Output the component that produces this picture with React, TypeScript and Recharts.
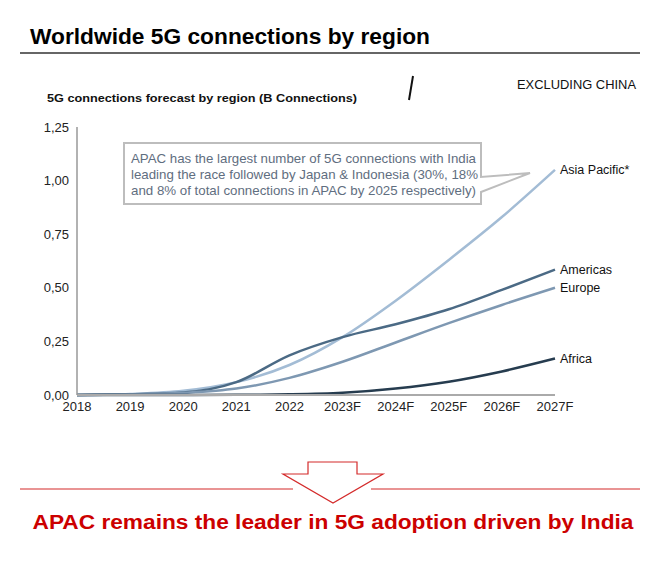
import { LineChart, Line, XAxis, YAxis } from "recharts"

const YEARS = ["2018", "2019", "2020", "2021", "2022", "2023F", "2024F", "2025F", "2026F", "2027F"]
const APAC = [0, 0.005, 0.02, 0.06, 0.14, 0.27, 0.44, 0.63, 0.83, 1.05]
const AMERICAS = [0, 0.004, 0.012, 0.06, 0.185, 0.27, 0.33, 0.40, 0.49, 0.585]
const EUROPE = [0, 0.003, 0.01, 0.03, 0.08, 0.155, 0.245, 0.335, 0.42, 0.50]
const AFRICA = [0, 0, 0, 0.001, 0.003, 0.01, 0.03, 0.062, 0.11, 0.17]
const Y_TICKS = [0, 0.25, 0.5, 0.75, 1, 1.25]

const SERIES = [
  { key: "apac", name: "Asia Pacific*", values: APAC, color: "#a3bcd5" },
  { key: "americas", name: "Americas", values: AMERICAS, color: "#4b6a85" },
  { key: "europe", name: "Europe", values: EUROPE, color: "#7e98b2" },
  { key: "africa", name: "Africa", values: AFRICA, color: "#263c4f" },
]

const FONT = "'Liberation Sans', Arial, sans-serif"

const data = YEARS.map((year, i) => {
  const row: Record<string, string | number> = { year }
  for (const s of SERIES) row[s.key] = s.values[i]
  return row
})

function endLabel(name: string) {
  return (props: any) => {
    if (props.index !== YEARS.length - 1) return null
    return (
      <text x={props.x + 5} y={props.y + 4.5} fontSize={12.5} fill="#111" fontFamily={FONT}>
        {name}
      </text>
    )
  }
}

export default function App() {
  return (
    <div style={{ position: "absolute", left: 0, top: 0, width: 670, height: 563, background: "#fff", fontFamily: FONT }}>
      <svg width={670} height={563} style={{ position: "absolute", left: 0, top: 0 }}>
        <text x={30} y={44} fontSize={22} fontWeight="bold" fill="#000" textLength={400} lengthAdjust="spacingAndGlyphs">
          Worldwide 5G connections by region
        </text>
        <line x1={20} x2={640} y1={53} y2={53} stroke="#666" strokeWidth={2} />
        <text x={47} y={102} fontSize={11} fontWeight="bold" fill="#111" textLength={310} lengthAdjust="spacingAndGlyphs">
          5G connections forecast by region (B Connections)
        </text>
        <line x1={413} y1={76} x2={409} y2={100} stroke="#111" strokeWidth={2} />
        <text x={517} y={89} fontSize={13} fill="#111" textLength={119} lengthAdjust="spacingAndGlyphs">EXCLUDING CHINA</text>

        <line x1={20} x2={293} y1={489} y2={489} stroke="#d42b2b" strokeWidth={1.2} />
        <line x1={371} x2={640} y1={489} y2={489} stroke="#d42b2b" strokeWidth={1.2} />
        <polygon
          points="308,462 357,462 357,474 383,474 333,503 283,474 308,474"
          fill="#fff"
          stroke="#d42b2b"
          strokeWidth={1.2}
        />
        <text x={333} y={529} fontSize={20} fontWeight="bold" fill="#cc0000" textAnchor="middle" textLength={601} lengthAdjust="spacingAndGlyphs">
          APAC remains the leader in 5G adoption driven by India
        </text>
      </svg>

      <div style={{ position: "absolute", left: 0, top: 0 }}>
        <LineChart width={670} height={425} data={data} margin={{ top: 127, right: 115, left: 35, bottom: 0 }}>
          <XAxis
            dataKey="year"
            tickLine={false}
            axisLine={{ stroke: "#aaa", strokeWidth: 2 }}
            tick={{ fontSize: 13, fill: "#222", fontFamily: FONT }}
            tickMargin={4}
            tickSize={3}
            interval={0}
            height={30}
          />
          <YAxis
            domain={[0, 1.25]}
            ticks={Y_TICKS}
            tickFormatter={(v: number) => v.toFixed(2).replace(".", ",")}
            tickLine={false}
            axisLine={{ stroke: "#999", strokeWidth: 1.5 }}
            tick={{ fontSize: 13, fill: "#222", fontFamily: FONT }}
            tickMargin={2}
            width={42}
          />
          {SERIES.map((s) => (
            <Line
              key={s.key}
              dataKey={s.key}
              type="monotoneX"
              stroke={s.color}
              strokeWidth={2.5}
              dot={false}
              isAnimationActive={false}
              label={endLabel(s.name)}
            />
          ))}
        </LineChart>
      </div>

      <svg width={670} height={563} style={{ position: "absolute", left: 0, top: 0, pointerEvents: "none" }}>
        <polygon
          points="124,143 481,143 481,177 530,173 481,192 481,204 124,204"
          fill="#fff"
          stroke="#bdbdbd"
          strokeWidth={2}
        />
        <g fontSize={13} fill="#5f6e80">
          <text x={131} y={163} textLength={345} lengthAdjust="spacingAndGlyphs">APAC has the largest number of 5G connections with India</text>
          <text x={131} y={179} textLength={347} lengthAdjust="spacingAndGlyphs">leading the race followed by Japan &amp; Indonesia (30%, 18%</text>
          <text x={131} y={195} textLength={345} lengthAdjust="spacingAndGlyphs">and 8% of total connections in APAC by 2025 respectively)</text>
        </g>
      </svg>
    </div>
  )
}
